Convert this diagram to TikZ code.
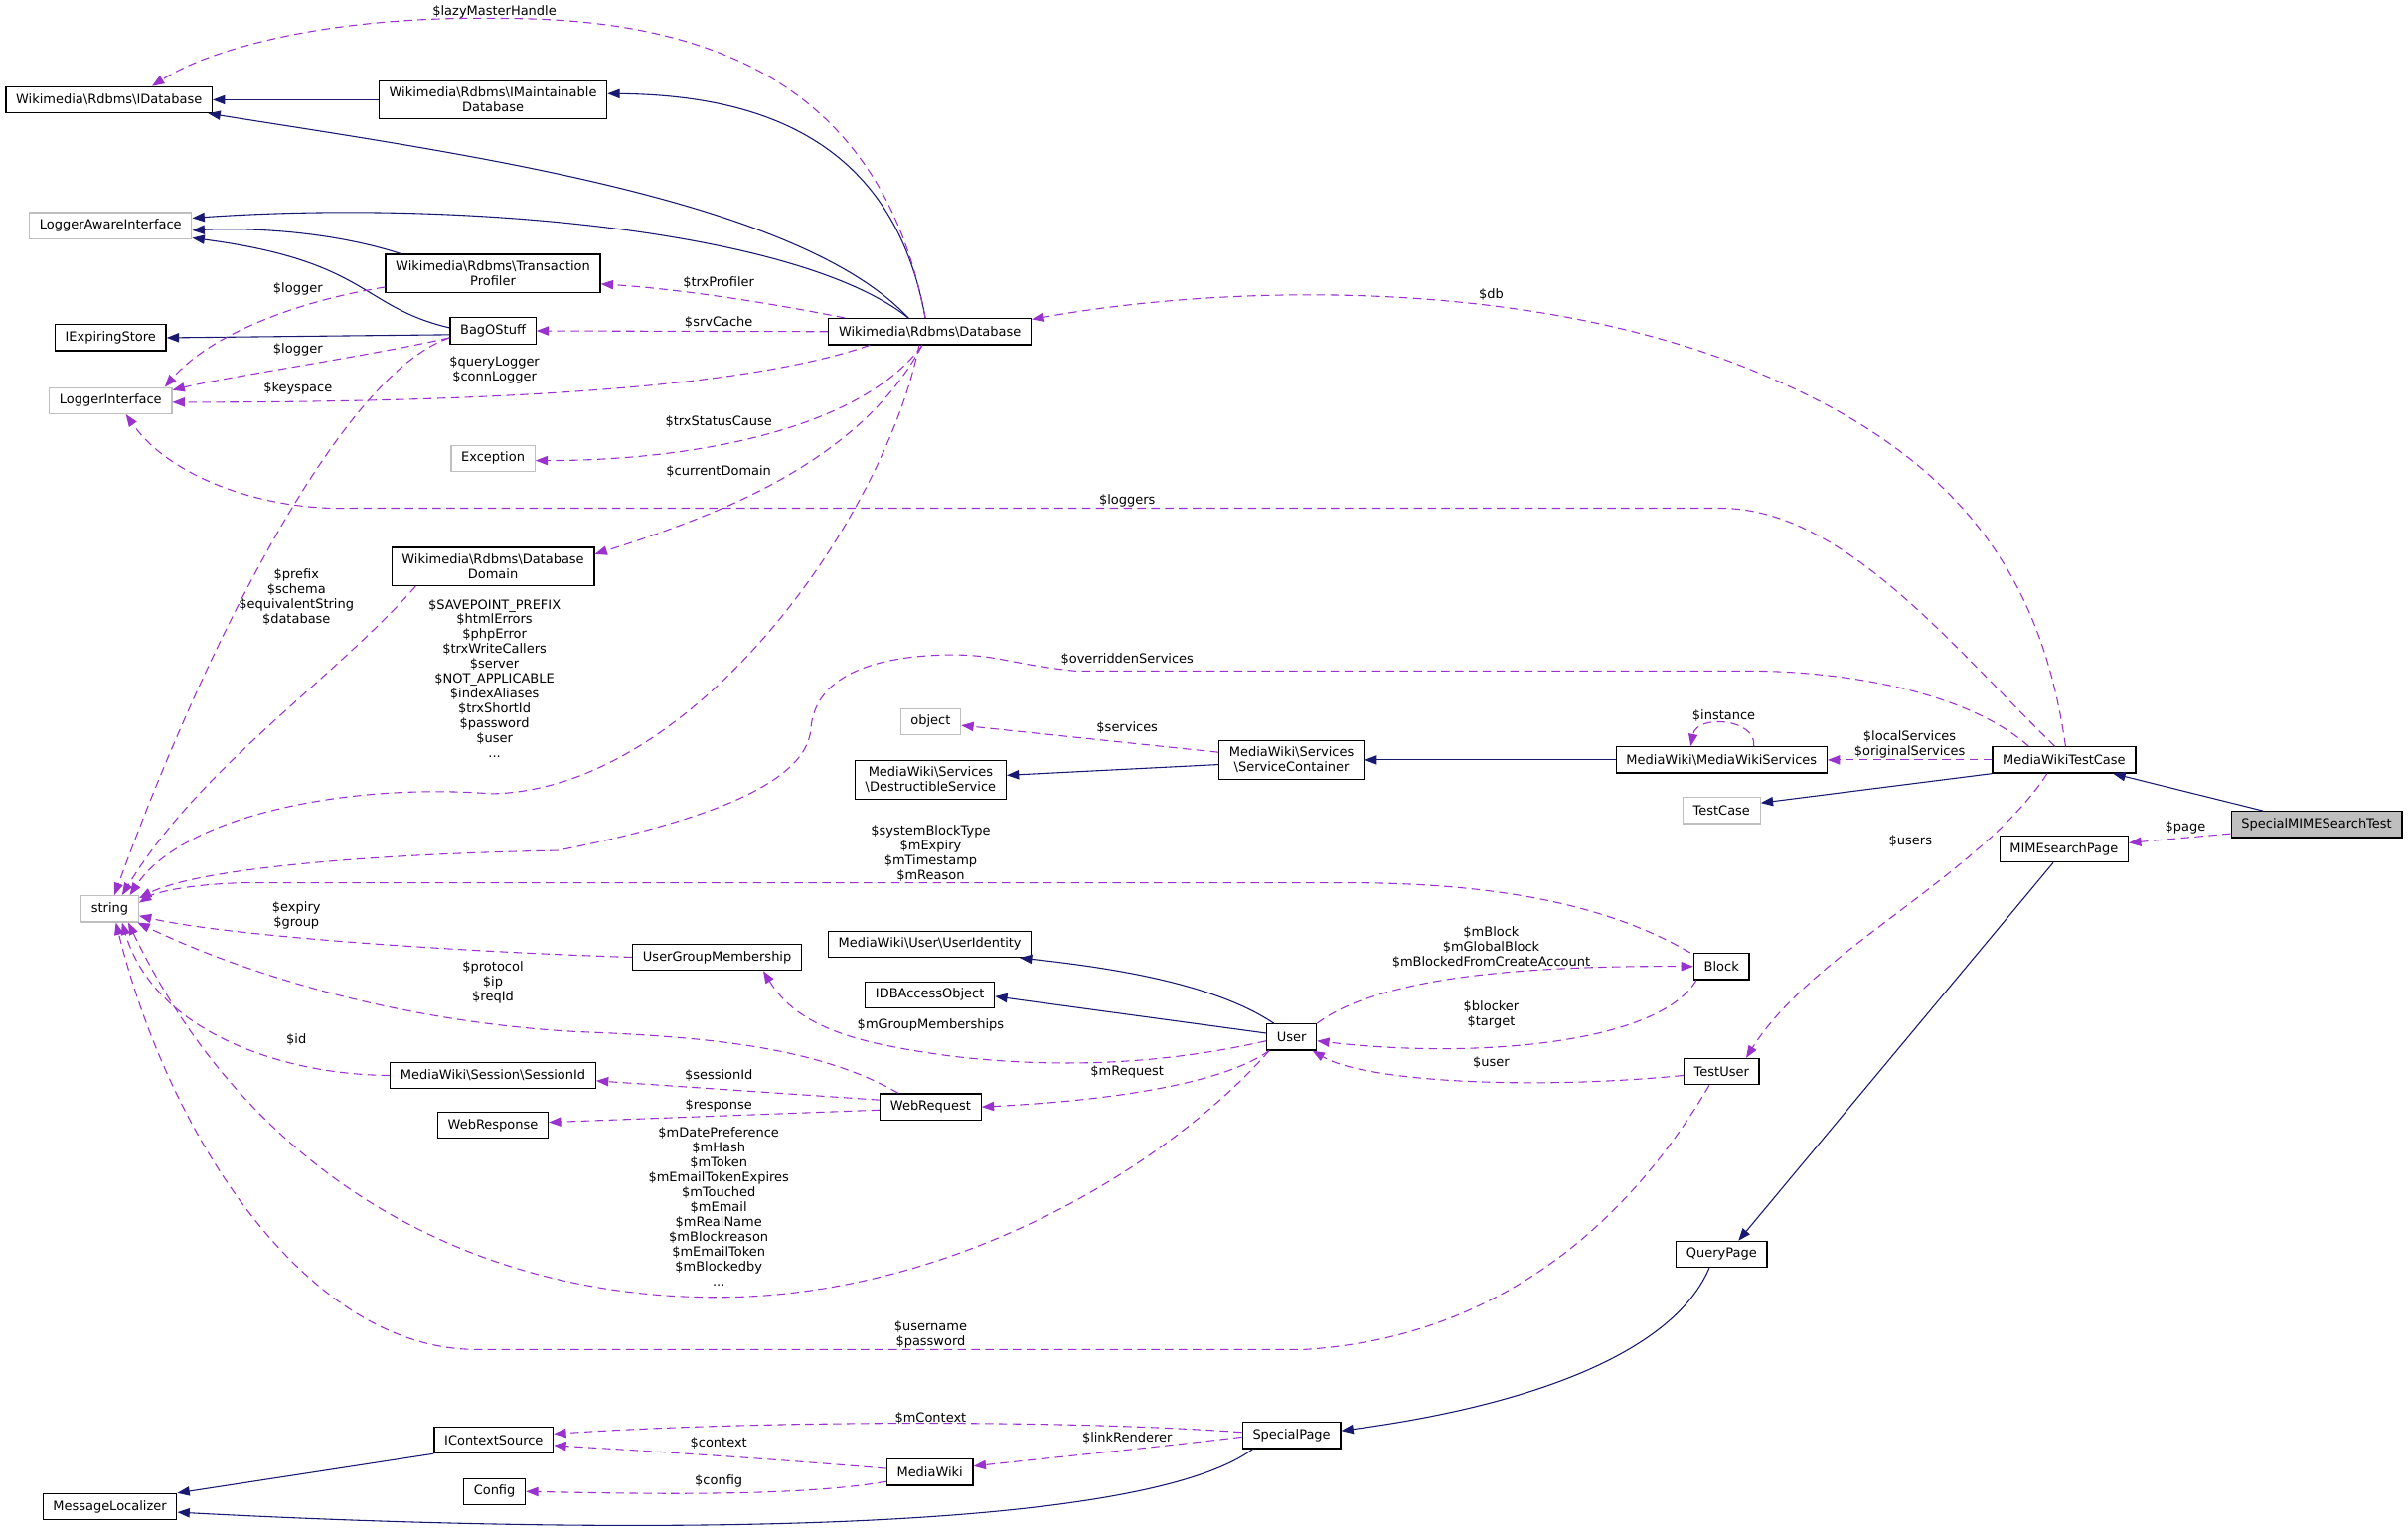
\documentclass[tikz,border=0pt]{standalone}
\usepackage{fontspec}
\setmainfont{DejaVu Sans}
\usetikzlibrary{arrows.meta,calc}

\definecolor{inhcol}{RGB}{25,25,112}
\definecolor{usecol}{RGB}{154,50,205}
\definecolor{extcol}{RGB}{191,191,191}

\tikzset{
  cls/.style={draw=black, line width=0.8pt, fill=white, align=center, inner xsep=6.6pt, inner ysep=4.3pt, minimum height=17pt},
  extcls/.style={cls, draw=extcol},
  curcls/.style={cls, fill=extcol},
  inh/.style={draw=inhcol, line width=0.7pt, -{Triangle[length=8pt,width=6pt]}},
  use/.style={draw=usecol, line width=0.7pt, dash pattern=on 5.5pt off 3.5pt, -{Triangle[length=8pt,width=6pt]}},
  lbl/.style={inner sep=0pt, align=center}
}

\begin{document}
\begin{tikzpicture}[x=1pt, y=-1pt, font=\fontsize{8.4}{9.7}\selectfont]
\useasboundingbox (0,0) rectangle (1568,995);

\node[cls] (idb) at (71,65) {Wikimedia\textbackslash Rdbms\textbackslash IDatabase};
\node[cls] (imaint) at (321,65) {Wikimedia\textbackslash Rdbms\textbackslash IMaintainable\\Database};
\node[extcls] (lai) at (72,147) {LoggerAwareInterface};
\node[cls] (tprof) at (321,178) {Wikimedia\textbackslash Rdbms\textbackslash Transaction\\Profiler};
\node[cls] (ies) at (72,220) {IExpiringStore};
\node[cls] (bag) at (321,215.5) {BagOStuff};
\node[cls] (db) at (605.5,216) {Wikimedia\textbackslash Rdbms\textbackslash Database};
\node[extcls] (li) at (72,261) {LoggerInterface};
\node[extcls] (exc) at (321,298.5) {Exception};
\node[cls] (dd) at (321,369) {Wikimedia\textbackslash Rdbms\textbackslash Database\\Domain};
\node[extcls] (obj) at (606,470) {object};
\node[cls] (ds) at (606,508) {MediaWiki\textbackslash Services\\\textbackslash DestructibleService};
\node[cls] (sc) at (841,495) {MediaWiki\textbackslash Services\\\textbackslash ServiceContainer};
\node[cls] (mws) at (1121,495) {MediaWiki\textbackslash MediaWikiServices};
\node[cls] (mwtc) at (1344,495) {MediaWikiTestCase};
\node[extcls] (tc) at (1121,528) {TestCase};
\node[curcls] (smst) at (1508.5,537) {SpecialMIMESearchTest};
\node[cls] (msp) at (1344,553) {MIMEsearchPage};
\node[extcls] (str) at (71.5,592) {string};
\node[cls] (ugm) at (467,623.5) {UserGroupMembership};
\node[cls] (uid) at (605.5,615) {MediaWiki\textbackslash User\textbackslash UserIdentity};
\node[cls] (idbao) at (605.5,648) {IDBAccessObject};
\node[cls] (blk) at (1121,629.5) {Block};
\node[cls] (usr) at (841,675.5) {User};
\node[cls] (sid) at (321,700.5) {MediaWiki\textbackslash Session\textbackslash SessionId};
\node[cls] (wreq) at (606,721) {WebRequest};
\node[cls] (wresp) at (321,733) {WebResponse};
\node[cls] (tu) at (1121,698) {TestUser};
\node[cls] (qp) at (1121,817) {QueryPage};
\node[cls] (ics) at (321.5,938) {IContextSource};
\node[cls] (sp) at (841,935) {SpecialPage};
\node[cls] (mw) at (605.5,959) {MediaWiki};
\node[cls] (cfg) at (322,971.5) {Config};
\node[cls] (ml) at (71.5,981.5) {MessageLocalizer};

\draw[inh] (imaint.west) -- (idb.east);
\draw[inh] ($(db.north)+(-14,0)$) .. controls (520,130) and (300,100) .. ($(idb.south east)+(-3,0)$);
\draw[inh] ($(db.north)+(-3,0)$) .. controls (585,110) and (520,62) .. ($(imaint.east)+(0,-4)$);
\draw[inh] ($(db.north)+(-14,0)$) .. controls (520,150) and (300,130) .. ($(lai.east)+(0,-5)$);
\draw[inh] ($(tprof.north west)+(10,0)$) .. controls (220,152) and (170,148) .. ($(lai.east)+(0,3)$);
\draw[inh] ($(bag.west)+(0,-2)$) .. controls (235,200) and (240,170) .. ($(lai.east)+(0,8)$);
\draw[inh] ($(bag.west)+(0,2.5)$) -- (ies.east);
\draw[inh] ($(sc.west)+(0,3)$) -- ($(ds.east)+(0,-3)$);
\draw[inh] (mws.west) -- (sc.east);
\draw[inh] (mwtc.south west) -- ($(tc.east)+(0,-5)$);
\draw[inh] ($(smst.north)+(-35,0)$) -- ($(mwtc.south east)+(-15,0)$);
\draw[inh] ($(msp.south)+(-7,0)$) -- ($(qp.north)+(11,0)$);
\draw[inh] ($(qp.south)+(-8,0)$) .. controls (1090,880) and (1000,915) .. ($(sp.east)+(0,-3)$);
\draw[inh] ($(sp.south west)+(7,0)$) .. controls (740,1000) and (400,1000) .. ($(ml.east)+(0,3.5)$);
\draw[inh] (ics.south west) -- ($(ml.east)+(0,-9)$);
\draw[inh] ($(usr.north west)+(5,0)$) .. controls (790,640) and (720,630) .. ($(uid.south east)+(-8,0)$);
\draw[inh] ($(usr.west)+(0,-2.5)$) -- ($(idbao.east)+(0,1)$);

\draw[use] ($(db.north)+(-3,0)$) .. controls (575,60) and (470,12) .. (327,12) .. controls (220,10) and (140,30) .. ($(idb.north)+(28,0)$);
\draw[use] ($(db.north west)+(11,0)$) .. controls (500,197) and (440,188) .. ($(tprof.east)+(0,7)$);
\draw[use] (db.west) -- (bag.east);
\draw[use] ($(db.south west)+(27,0)$) .. controls (480,255) and (300,262) .. ($(li.east)+(0,1)$);
\draw[use] ($(bag.west)+(0,4.5)$) .. controls (240,232) and (150,245) .. ($(li.north east)+(0,2)$);
\draw[use] ($(tprof.west)+(0,9)$) .. controls (200,195) and (140,215) .. ($(li.north east)+(-5,0)$);
\draw[use] ($(bag.west)+(0,4.5)$) .. controls (220,245) and (130,430) .. ($(str.north)+(3,0)$);
\draw[use] ($(db.south)+(-5,0)$) .. controls (560,280) and (450,300) .. ($(exc.east)+(0,1.5)$);
\draw[use] ($(db.south)+(-5,0)$) .. controls (560,300) and (470,335) .. ($(dd.east)+(0,-8)$);
\draw[use] ($(db.south)+(-7,0)$) .. controls (575,340) and (450,515) .. (320,517) .. controls (230,510) and (120,530) .. ($(str.north)+(13,0)$);
\draw[use] ($(dd.south west)+(16,0)$) .. controls (220,440) and (130,500) .. ($(str.north)+(8,0)$);
\draw[use] ($(mwtc.north)+(1,0)$) .. controls (1330,380) and (1280,300) .. (1150,245) .. controls (1000,180) and (800,185) .. ($(db.east)+(0,-8)$);
\draw[use] ($(mwtc.north)+(-6,0)$) .. controls (1270,420) and (1200,331) .. (1120,331) -- (230,331) .. controls (170,333) and (110,310) .. ($(li.south)+(10,0)$);
\draw[use] ($(mwtc.north)+(-23,0)$) .. controls (1280,450) and (1200,437) .. (1137,437) -- (700,437) .. controls (660,433) and (650,426.5) .. (620,426.5) .. controls (560,427) and (530,445) .. (528,475) .. controls (525,510) and (460,535) .. (363,554) .. controls (250,556) and (130,565) .. ($(str.north east)+(0,2)$);
\draw[use] ($(sc.west)+(0,-5)$) -- ($(obj.east)+(0,2.5)$);
\draw[use] ($(mws.north)+(21,0)$) .. controls (1144,468) and (1105,465) .. ($(mws.north)+(-20,0)$);
\draw[use] (mwtc.west) -- (mws.east);
\draw[use] ($(smst.west)+(0,6)$) -- ($(msp.east)+(0,-4)$);
\draw[use] ($(mwtc.south)+(-11,0)$) .. controls (1290,570) and (1180,620) .. ($(tu.north)+(16,0)$);
\draw[use] ($(blk.north west)+(-2,0)$) .. controls (1040,585) and (960,575) .. (875,575) -- (160,575) .. controls (120,576) and (100,582) .. ($(str.east)+(0,-4)$);
\draw[use] (ugm.west) .. controls (300,620) and (150,610) .. ($(str.east)+(0,4.5)$);
\draw[use] ($(wreq.north)+(-21,0)$) .. controls (530,680) and (450,675) .. (375,672) .. controls (250,665) and (150,630) .. ($(str.south east)+(-1,0)$);
\draw[use] (sid.west) .. controls (180,700) and (100,670) .. ($(str.south)+(8,0)$);
\draw[use] ($(usr.west)+(0,2.5)$) .. controls (750,695) and (680,695) .. (620,688) .. controls (560,680) and (520,670) .. ($(ugm.south)+(30,0)$);
\draw[use] (usr.north east) .. controls (900,635) and (1000,629) .. (blk.west);
\draw[use] ($(blk.south west)+(2,0)$) .. controls (1080,680) and (960,690) .. ($(usr.east)+(0,2.5)$);
\draw[use] ($(tu.west)+(0,2.5)$) .. controls (1000,710) and (890,705) .. ($(usr.south east)+(-3,0)$);
\draw[use] ($(usr.south west)+(2,0)$) .. controls (790,710) and (700,718) .. (wreq.east);
\draw[use] ($(wreq.west)+(0,-4.5)$) -- ($(sid.east)+(0,3.5)$);
\draw[use] ($(wreq.west)+(0,2)$) -- ($(wresp.east)+(0,-2)$);
\draw[use] ($(usr.south west)+(2,0)$) .. controls (760,760) and (620,845) .. (467,845) .. controls (300,845) and (160,760) .. ($(str.south)+(12,0)$);
\draw[use] ($(tu.south)+(-8,0)$) .. controls (1070,780) and (990,870) .. (850,879) -- (310,879) .. controls (200,879) and (110,740) .. ($(str.south)+(4,0)$);
\draw[use] ($(sp.west)+(0,-2)$) .. controls (700,925) and (500,925) .. ($(ics.east)+(0,-4)$);
\draw[use] ($(sp.west)+(0,1)$) .. controls (750,943) and (680,950) .. ($(mw.east)+(0,-4)$);
\draw[use] ($(mw.west)+(0,-2.5)$) .. controls (500,950) and (420,945) .. ($(ics.east)+(0,3.5)$);
\draw[use] ($(mw.west)+(0,6)$) .. controls (520,975) and (420,973) .. (cfg.east);

\node[lbl] (lLazy) at (322,7.5) {\$lazyMasterHandle};
\node[lbl] (lTrxProf) at (468,184) {\$trxProfiler};
\node[lbl] (lSrv) at (468,210) {\$srvCache};
\node[lbl] (lLogA) at (194,188) {\$logger};
\node[lbl] (lLogB) at (194,228) {\$logger};
\node[lbl] (lQuery) at (322,241) {\$queryLogger\\\$connLogger};
\node[lbl] (lKey) at (194,253) {\$keyspace};
\node[lbl] (lStatus) at (468,275) {\$trxStatusCause};
\node[lbl] (lDomain) at (468,307) {\$currentDomain};
\node[lbl] (lPrefix) at (193,389) {\$prefix\\\$schema\\\$equivalentString\\\$database};
\node[lbl] (lSave) at (322,442) {\$SAVEPOINT\_PREFIX\\\$htmlErrors\\\$phpError\\\$trxWriteCallers\\\$server\\\$NOT\_APPLICABLE\\\$indexAliases\\\$trxShortId\\\$password\\\$user\\...};
\node[lbl] (lDb) at (971,192) {\$db};
\node[lbl] (lLoggers) at (734,326) {\$loggers};
\node[lbl] (lOver) at (734,429.5) {\$overriddenServices};
\node[lbl] (lServ) at (734,474) {\$services};
\node[lbl] (lInst) at (1122.5,466) {\$instance};
\node[lbl] (lLocal) at (1243.5,485) {\$localServices\\\$originalServices};
\node[lbl] (lPage) at (1423,539) {\$page};
\node[lbl] (lUsers) at (1244,548) {\$users};
\node[lbl] (lSysBlock) at (606,556) {\$systemBlockType\\\$mExpiry\\\$mTimestamp\\\$mReason};
\node[lbl] (lExpiry) at (193,596.5) {\$expiry\\\$group};
\node[lbl] (lProto) at (321,640) {\$protocol\\\$ip\\\$reqId};
\node[lbl] (lId) at (193,677) {\$id};
\node[lbl] (lGroup) at (606,668) {\$mGroupMemberships};
\node[lbl] (lBlock) at (971,617) {\$mBlock\\\$mGlobalBlock\\\$mBlockedFromCreateAccount};
\node[lbl] (lBlocker) at (971,661) {\$blocker\\\$target};
\node[lbl] (lUser) at (971,692) {\$user};
\node[lbl] (lReq) at (734,698) {\$mRequest};
\node[lbl] (lSess) at (468,700.5) {\$sessionId};
\node[lbl] (lResp) at (468,720) {\$response};
\node[lbl] (lDate) at (468,786) {\$mDatePreference\\\$mHash\\\$mToken\\\$mEmailTokenExpires\\\$mTouched\\\$mEmail\\\$mRealName\\\$mBlockreason\\\$mEmailToken\\\$mBlockedby\\...};
\node[lbl] (lUname) at (606,869.5) {\$username\\\$password};
\node[lbl] (lCtxA) at (606,923.5) {\$mContext};
\node[lbl] (lCtxB) at (468,940) {\$context};
\node[lbl] (lLink) at (734,937) {\$linkRenderer};
\node[lbl] (lCfg) at (468,965) {\$config};
\end{tikzpicture}
\end{document}
